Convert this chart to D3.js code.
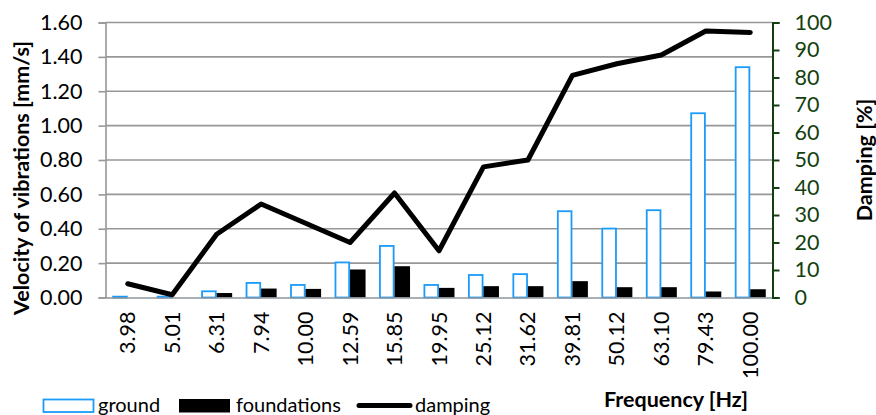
<!DOCTYPE html>
<html><head><meta charset="utf-8">
<script src="https://cdn.jsdelivr.net/npm/d3@7"></script>
<style>body{margin:0;background:#fff}svg{display:block}text{font-family:Lato,"Open Sans",sans-serif}</style>
</head><body><svg id="c" width="876" height="415"></svg>
<script>
const categories = ["3.98","5.01","6.31","7.94","10.00","12.59","15.85","19.95","25.12","31.62","39.81","50.12","63.10","79.43","100.00"];
const ground = [0.005,0.005,0.036,0.085,0.073,0.204,0.300,0.073,0.131,0.136,0.502,0.401,0.508,1.072,1.340];
const foundations = [0.000,0.000,0.026,0.052,0.050,0.163,0.182,0.056,0.066,0.066,0.095,0.060,0.060,0.035,0.048];
const damping = [5,1,23,34,27,20,38,17,47.5,50,80.8,85,88.2,96.9,96.4];
const leftTicks = [0,0.2,0.4,0.6,0.8,1.0,1.2,1.4,1.6];
const rightTicks = [0,10,20,30,40,50,60,70,80,90,100];
const seriesNames = ["ground","foundations","damping"];

const svg = d3.select("#c");
const L=105.5, R=772.5, T=22.5, B=297.5;
const fs = 21.5, fsT = 21.5, fsL = 20;
const x = d3.scaleBand().domain(categories).range([L,R]);
const xs = d3.scaleBand().domain(["ground","foundations"]).range([0,x.bandwidth()]).paddingOuter(0.435);
const yL = d3.scaleLinear().domain([0,1.6]).range([B,T]);
const yR = d3.scaleLinear().domain([0,100]).range([B,T]);

// grid
svg.append("g").selectAll("line").data(leftTicks.slice(1)).join("line")
  .attr("x1",L).attr("x2",R).attr("y1",d=>yL(d)).attr("y2",d=>yL(d))
  .attr("stroke","#979797").attr("stroke-width",1.6);

// left axis
const gL = svg.append("g").attr("transform",`translate(${L},0)`)
  .call(d3.axisLeft(yL).tickValues(leftTicks).tickFormat(d3.format(".2f")).tickSize(7).tickPadding(16));
gL.select(".domain").attr("stroke","#979797").attr("stroke-width",1.6);
gL.selectAll(".tick line").attr("stroke","#979797").attr("stroke-width",1.6);
gL.selectAll("text").attr("font-size",fs).attr("fill","#000").attr("font-family","Lato");

// bars
const gb = svg.append("g");
categories.forEach((c,i)=>{
  const x0 = x(c);
  const w = xs.bandwidth();
  gb.append("rect").attr("x",x0+xs("ground")+0.9).attr("width",w-1.8)
    .attr("y",yL(ground[i])).attr("height",Math.max(0,B-yL(ground[i])))
    .attr("fill","#fff").attr("stroke","#1b9bfa").attr("stroke-width",1.8);
  gb.append("rect").attr("x",x0+xs("foundations")).attr("width",w)
    .attr("y",yL(foundations[i])).attr("height",B-yL(foundations[i]))
    .attr("fill","#000");
});

// bottom axis
const gX = svg.append("g").attr("transform",`translate(0,${B})`)
  .call(d3.axisBottom(x).tickSize(0).tickPadding(0));
gX.select(".domain").attr("stroke","#8b959c").attr("stroke-width",1.6);
gX.selectAll(".tick text").attr("font-size",fs).attr("fill","#000").attr("font-family","Lato")
  .attr("transform","rotate(-90)").attr("text-anchor","end").attr("dy","0.35em").attr("x",-14).attr("y",0);

// damping line
const line = d3.line().x((d,i)=>x(categories[i])+x.bandwidth()/2).y(d=>yR(d));
svg.append("path").datum(damping).attr("d",line).attr("fill","none")
  .attr("stroke","#000").attr("stroke-width",5).attr("stroke-linejoin","round").attr("stroke-linecap","round");

// right axis
const green="#143f10";
const gR = svg.append("g").attr("transform",`translate(${R},0)`)
  .call(d3.axisRight(yR).tickValues(rightTicks).tickSize(7).tickPadding(15));
gR.select(".domain").attr("stroke",green).attr("stroke-width",2);
gR.selectAll(".tick line").attr("stroke",green).attr("stroke-width",2);
gR.selectAll("text").attr("font-size",fs).attr("fill",green).attr("font-family","Lato");

// titles
svg.append("text").attr("transform","translate(29,178) rotate(-90)").attr("text-anchor","middle")
  .attr("font-size",fsT).attr("font-weight","bold").text("Velocity of vibrations [mm/s]");
svg.append("text").attr("transform","translate(872,160) rotate(-90)").attr("text-anchor","middle")
  .attr("font-size",fsT).attr("font-weight","bold").text("Damping [%]");
svg.append("text").attr("x",676).attr("y",407).attr("text-anchor","middle")
  .attr("font-size",fsT).attr("font-weight","bold").text("Frequency [Hz]");

// legend
const lg = svg.append("g");
lg.append("rect").attr("x",43.5).attr("y",399.5).attr("width",50).attr("height",12.5)
  .attr("fill","#fff").attr("stroke","#1b9bfa").attr("stroke-width",1.8);
lg.append("text").attr("x",98).attr("y",412).attr("font-size",fsL).text(seriesNames[0]);
lg.append("rect").attr("x",179).attr("y",399).attr("width",51).attr("height",13.5).attr("fill","#000");
lg.append("text").attr("x",236).attr("y",412).attr("font-size",fsL).text(seriesNames[1]);
lg.append("line").attr("x1",359).attr("x2",410).attr("y1",405.5).attr("y2",405.5)
  .attr("stroke","#000").attr("stroke-width",5).attr("stroke-linecap","round");
lg.append("text").attr("x",415).attr("y",412).attr("font-size",fsL).text(seriesNames[2]);
</script></body></html>
